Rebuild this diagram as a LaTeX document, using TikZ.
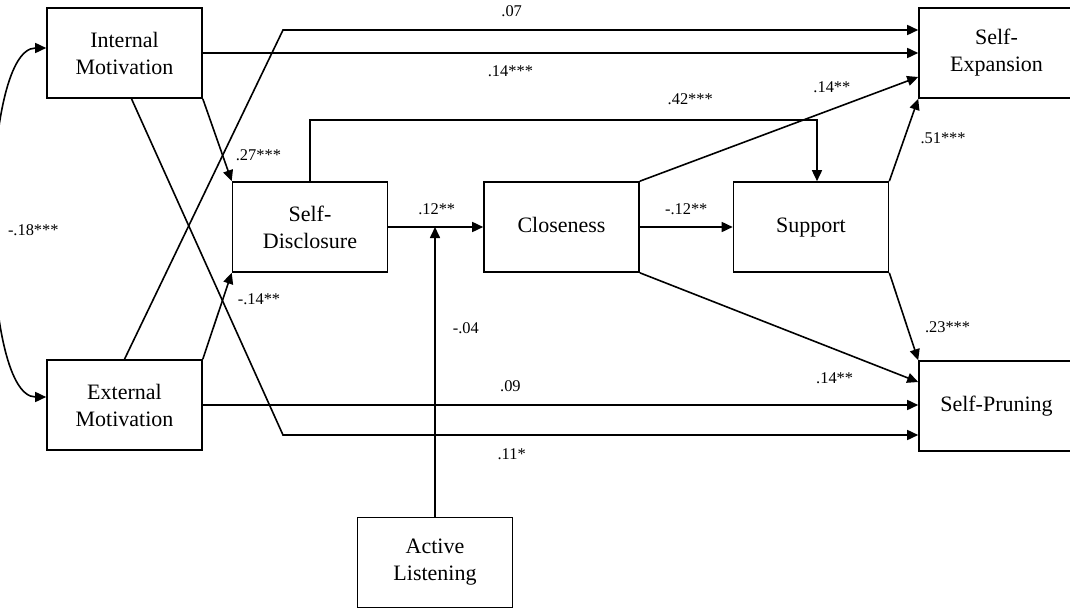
\documentclass[tikz,border=0pt]{standalone}
\usepackage{fontspec}
\setmainfont{Liberation Serif}
\usetikzlibrary{arrows.meta}

\begin{document}
\begin{tikzpicture}[x=0.5pt, y=-0.5pt,
  var/.style={rectangle, draw, line width=0.8pt, minimum width=77.5pt, minimum height=45pt, align=center, font=\fontsize{11}{13.5}\selectfont},
  oneline/.style={text height=8pt, text depth=2.6pt},
  link/.style={-{Triangle[length=5.5pt,width=5pt]}, line width=0.8pt},
  coef/.style={font=\fontsize{8.2}{10}\selectfont, inner sep=1pt}
]
\clip (0,0) rectangle (1070,610);

\node[var] (im) at (124.5,53) {Internal\\Motivation};
\node[var] (em) at (124.5,405) {External\\Motivation};
\node[var] (sd) at (310,227) {Self-\\Disclosure};
\node[var, oneline] (cl) at (561.5,227) {Closeness};
\node[var, oneline] (su) at (811,227) {Support};
\node[var] (se) at (996.5,53) {Self-\\Expansion};
\node[var, oneline] (sp) at (996.5,406) {Self-Pruning};
\node[var] (al) at (435,562.5) {Active\\Listening};

\coordinate (k07) at (283,30);
\coordinate (k42) at (817,120);
\coordinate (k11) at (283,435);

% direct paths to the outcomes
\draw[link] (em.north) -- (k07) -- node[coef, pos=0.36, above=5.3pt] {.07} (k07 -| se.west);
\draw[link] (im.east) -- node[coef, pos=0.43, below=4.8pt] {.14***} (se.west);
\draw[link] (em.east) -- node[coef, pos=0.43, above=5pt] {.09} (em.east -| sp.west);
\draw[link] ([xshift=3.5pt]im.south) -- (k11) -- node[coef, pos=0.36, below=5.3pt] {.11*} (k11 -| sp.west);

% motivation to disclosure
\draw[link] (im.south east) -- node[coef, pos=0.68, right=5.3pt] {.27***} (sd.north west);
\draw[link] (em.north east) -- node[coef, pos=0.7, right=6pt] {-.14**} (sd.south west);

% middle chain
\draw[link] (sd.east) -- node[coef, pos=0.51, above=4.8pt] {.12**} (cl.west);
\draw[link] (al.north) -- node[coef, pos=0.65, right=7.5pt] {-.04} (al.north |- sd.east);
\draw[link] (cl.east) -- node[coef, above=4.8pt] {-.12**} (su.west);
\draw[link] (sd.north) -- (sd.north |- k42) -- node[coef, pos=0.75, above=6.3pt] {.42***} (k42) -- (k42 |- su.north);

% closeness and support to the outcomes
\draw[link] (cl.north east) -- node[coef, pos=0.69, above=7pt] {.14**} ([yshift=-12pt]se.west);
\draw[link] (su.north east) -- node[coef, pos=0.52, right=6.7pt] {.51***} (se.south west);
\draw[link] (cl.south east) -- node[coef, pos=0.7, below=10.3pt] {.14**} ([yshift=12pt]sp.west);
\draw[link] (su.south east) -- node[coef, pos=0.62, right=7.5pt] {.23***} (sp.north west);

% covariance
\draw[{Triangle[length=5.5pt,width=5pt]}-{Triangle[length=5.5pt,width=5pt]}, line width=0.8pt]
  ([yshift=2.5pt]im.west) to[out=180, in=180, looseness=0.5] node[coef, pos=0.515, right=5pt] {-.18***} ([yshift=4pt]em.west);
\end{tikzpicture}
\end{document}
